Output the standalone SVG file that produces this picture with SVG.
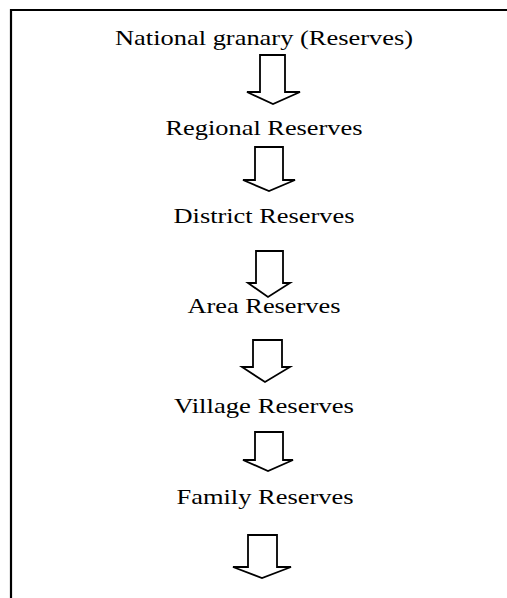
<svg xmlns="http://www.w3.org/2000/svg" width="507" height="598" viewBox="0 0 507 598">
<style>
.lbl{font-family:"Liberation Serif","Times New Roman",serif;font-size:22px;fill:#000;text-anchor:middle}
.arr{fill:#fff;stroke:#000;stroke-width:1.8;stroke-linejoin:miter}
</style>
<rect width="507" height="598" fill="#fff"/>
<path d="M11,598 V10 H507" fill="none" stroke="#000" stroke-width="2.2"/>
<g id="national"><text class="lbl" x="264" y="45" textLength="298" lengthAdjust="spacingAndGlyphs">National granary (Reserves)</text></g>
<g id="regional"><text class="lbl" x="264" y="135" textLength="197" lengthAdjust="spacingAndGlyphs">Regional Reserves</text></g>
<g id="district"><text class="lbl" x="264" y="223" textLength="181" lengthAdjust="spacingAndGlyphs">District Reserves</text></g>
<g id="area"><text class="lbl" x="264" y="313" textLength="153" lengthAdjust="spacingAndGlyphs">Area Reserves</text></g>
<g id="village"><text class="lbl" x="264" y="413" textLength="180" lengthAdjust="spacingAndGlyphs">Village Reserves</text></g>
<g id="family"><text class="lbl" x="265" y="504" textLength="177" lengthAdjust="spacingAndGlyphs">Family Reserves</text></g>
<g id="connectors">
<path class="arr" d="M260,55 H285 V92 H300 L273,104 L247,92 H260 Z"/>
<path class="arr" d="M255,147 H283 V180 H295 L269,191 L243,180 H255 Z"/>
<path class="arr" d="M256,251 H283 V283 H290 L268,297 L248,283 H256 Z"/>
<path class="arr" d="M253,340 H282 V367 H290 L265,382 L242,367 H253 Z"/>
<path class="arr" d="M255,432 H283 V460 H293 L268,471 L243,460 H255 Z"/>
<path class="arr" d="M248,535 H277 V567 H291 L262,578 L233,567 H248 Z"/>
</g>
</svg>
